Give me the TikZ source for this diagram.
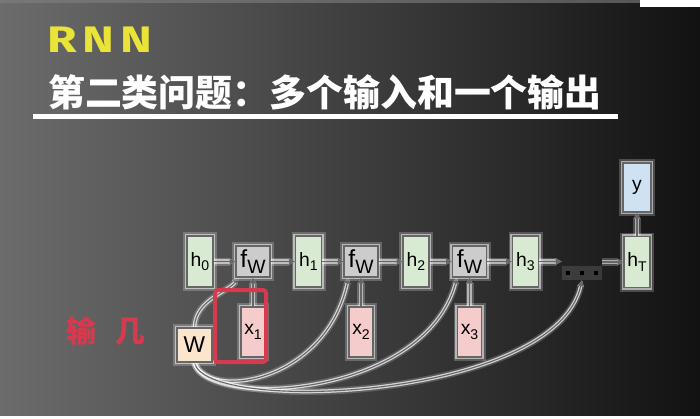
\documentclass[tikz,border=0pt]{standalone}
\usepackage{fontspec}
\setmainfont{Liberation Sans}
\newfontfamily\cjk{Noto Sans CJK SC}
\newfontfamily\headfont{Fira Sans}
\usetikzlibrary{arrows.meta}

\newlength\pxl
\setlength\pxl{0.02cm}
\newcommand\lowsub[1]{\raisebox{-0.45ex}{\fontsize{8}{8}\selectfont #1}}

\definecolor{hgreen}{HTML}{D9EAD3}
\definecolor{fgray}{HTML}{CCCCCC}
\definecolor{xpink}{HTML}{F4CCCC}
\definecolor{wbeige}{HTML}{FCE5CD}
\definecolor{yblue}{HTML}{CFE2F3}
\definecolor{linegray}{HTML}{666666}
\definecolor{rnnyellow}{HTML}{E9E437}
\definecolor{inred}{HTML}{D63A4E}
\definecolor{bgl}{HTML}{6C6C6C}
\definecolor{bgm}{HTML}{343434}
\definecolor{bgr}{HTML}{121212}

\pgfdeclarelayer{back}
\pgfdeclarelayer{wires}
\pgfsetlayers{back,wires,main}

\tikzset{
  glow/.style={preaction={draw=white, line width=8\pxl, opacity=0.22},
               preaction={draw=white, line width=4.5\pxl, opacity=0.55}},
  box/.style={glow, draw=linegray, line width=0.6pt, inner sep=0pt,
              font=\fontsize{11}{12}\selectfont},
  hbox/.style={box, fill=hgreen, minimum width=26\pxl, minimum height=51\pxl},
  fbox/.style={box, fill=fgray, minimum width=34\pxl, minimum height=31\pxl,
               font=\fontsize{14}{14}\selectfont},
  xbox/.style={box, fill=xpink, minimum width=24\pxl, minimum height=50\pxl},
  arr/.style={glow, draw=linegray, line width=1.3\pxl,
              -{Triangle[length=3.4pt,width=3.4pt]}},
  wire/.style={draw=linegray, line width=1.1\pxl,
               -{Triangle[length=3.4pt,width=3.4pt]},
               preaction={draw=white, line width=7\pxl, opacity=0.18},
               preaction={draw=white, line width=3.6\pxl, opacity=0.75}}
}

\begin{document}
\begin{tikzpicture}[x=0.02cm, y=-0.02cm]
\begin{pgfonlayer}{back}
\shade[left color=bgl, middle color=bgm, right color=bgr] (0,0) rectangle (700,415);
\fill[gray, opacity=0.6] (0,0) rectangle (640,3);
\fill[white] (640,0) rectangle (700,7);
\end{pgfonlayer}

% titles
\node[anchor=west, text=rnnyellow, font=\headfont\bfseries\fontsize{21}{21}\selectfont]
  (rnn) at (41,40) {\scalebox{1.3}[1]{R\hspace{2.5pt}N\hspace{2.5pt}N}};
\node[anchor=west, text=white, font=\cjk\bfseries\fontsize{21}{21}\selectfont]
  (title) at (42,92) {第二类问题：多个输入和一个输出};
\fill[white] (33,114) rectangle (618,119);
\node[anchor=west, text=inred, font=\cjk\bfseries\fontsize{17}{17}\selectfont]
  (inlabel) at (60,331) {输\hspace{11pt}几};

% chain
\foreach \i/\xc in {0/200,1/308.5,2/416,3/525.5}{
  \node[hbox] (h\i) at (\xc,261.5) {h\lowsub{\i}};
}
\foreach \i/\xc in {1/253,2/361,3/469.5}{
  \node[fbox] (f\i) at (\xc,261.5) {f\lowsub{\fontsize{11}{11}\selectfont W}};
  \node[xbox] (x\i) at (\xc,332) {x\lowsub{\i}};
}
\node[hbox] (hT) at (637,262) {h\lowsub{T}};
\node[box, fill=yblue, minimum width=28\pxl, minimum height=49\pxl] (y) at (637,187.5) {y};
\node[box, fill=wbeige, minimum width=35\pxl, minimum height=34\pxl,
      font=\fontsize{13}{13}\selectfont] (W) at (194.5,345) {W};
\node[inner sep=4\pxl, minimum height=14\pxl,
      preaction={fill=white, opacity=0.12, rounded corners=6\pxl}] (dots) at (582,273)
  {\rule{2.4pt}{2.4pt}\hspace{5.5pt}\rule{2.4pt}{2.4pt}\hspace{5.5pt}\rule{2.4pt}{2.4pt}};

% arrows
\draw[arr] (h0) -- (f1);
\draw[arr] (f1) -- (h1);
\draw[arr] (h1) -- (f2);
\draw[arr] (f2) -- (h2);
\draw[arr] (h2) -- (f3);
\draw[arr] (f3) -- (h3);
\draw[arr] (h3.east) -- (h3.east -| dots.west);
\draw[arr] (hT.west -| dots.east) -- (hT.west);
\draw[arr] (hT) -- (y);
\foreach \i in {1,2,3}{
  \draw[arr] (x\i) -- (f\i);
}

% shared weights
\begin{pgfonlayer}{wires}
\draw[wire] (W.north) .. controls (195,300) and (228,292) .. ([xshift=3\pxl]f1.south west);
\draw[wire] (W.south) .. controls (205,400) and (325,385) .. ([xshift=5\pxl]f2.south west);
\draw[wire] (W.south) .. controls (205,410) and (425,398) .. ([xshift=5\pxl]f3.south west);
\draw[wire] (W.south) .. controls (205,415) and (555,400) .. (dots.south);
\end{pgfonlayer}

% highlight
\draw[inred, line width=4\pxl, rounded corners=3\pxl] (215,290) rectangle (266,362);
\end{tikzpicture}
\end{document}
